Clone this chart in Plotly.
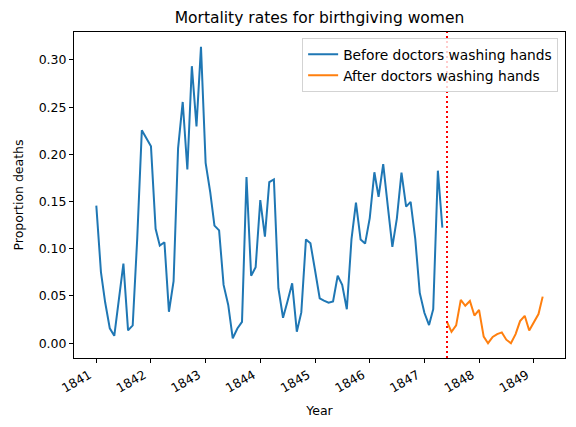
import plotly.graph_objects as go

# Before doctors washing hands (Dec 1841 missing in source data)
before_dates = (
    ["1841-%02d-01" % m for m in range(1, 12)]
    + ["1842-%02d-01" % m for m in range(1, 13)]
    + ["1843-%02d-01" % m for m in range(1, 13)]
    + ["1844-%02d-01" % m for m in range(1, 13)]
    + ["1845-%02d-01" % m for m in range(1, 13)]
    + ["1846-%02d-01" % m for m in range(1, 13)]
    + ["1847-%02d-01" % m for m in range(1, 6)]
)
before_values = [
    0.1457, 0.0753, 0.0433, 0.0157, 0.0078, 0.0500, 0.0842, 0.0135, 0.0188, 0.1102, 0.2255,
    0.2085, 0.1212, 0.1033, 0.1069, 0.0333, 0.0656, 0.2063, 0.2555, 0.1840, 0.2934, 0.2297, 0.3139,
    0.1910, 0.1597, 0.1245, 0.1195, 0.0617, 0.0405, 0.0052, 0.0155, 0.0226, 0.1760, 0.0714, 0.0805,
    0.1516, 0.1128, 0.1706, 0.1735, 0.0582, 0.0269, 0.0445, 0.0634, 0.0122, 0.0326, 0.1099, 0.1058,
    0.0770, 0.0475, 0.0450, 0.0428, 0.0441, 0.0714, 0.0617, 0.0360, 0.1099, 0.1488, 0.1098, 0.1055,
    0.1325, 0.1810, 0.1550, 0.1897, 0.1460, 0.1020, 0.1320, 0.1807, 0.1446, 0.1497, 0.1105, 0.0533,
    0.0322, 0.0192, 0.0360, 0.1827, 0.1224,
]

after_dates = (
    ["1847-%02d-01" % m for m in range(6, 13)]
    + ["1848-%02d-01" % m for m in range(1, 13)]
    + ["1849-%02d-01" % m for m in range(1, 4)]
)
after_values = [
    0.0224, 0.0120, 0.0189, 0.0458, 0.0396, 0.0447, 0.0293,
    0.0353, 0.0069, 0.0000, 0.0066, 0.0096, 0.0114, 0.0037, 0.0000, 0.0096, 0.0234, 0.0290, 0.0134,
    0.0223, 0.0308, 0.0493,
]

handwashing_start = "1847-06-01"
year_ticks = ["%d-01-01" % y for y in range(1841, 1850)]
year_labels = [str(y) for y in range(1841, 1850)]
y_ticks = [0.00, 0.05, 0.10, 0.15, 0.20, 0.25, 0.30]

FONT = "DejaVu Sans"

fig = go.Figure()
fig.add_trace(go.Scatter(x=before_dates, y=before_values, mode="lines",
                         name="Before doctors washing hands",
                         line=dict(color="#1f77b4", width=2)))
fig.add_trace(go.Scatter(x=after_dates, y=after_values, mode="lines",
                         name="After doctors washing hands",
                         line=dict(color="#ff7f0e", width=2)))

fig.add_shape(type="line", xref="x", yref="paper",
              x0=handwashing_start, x1=handwashing_start, y0=0, y1=1,
              line=dict(color="red", width=2, dash="2px,3px"), layer="above")

# page body has an 8px margin, so the figure is sized/placed accordingly
fig.update_layout(
    width=568, height=419,
    margin=dict(l=62, r=10, t=24, b=69),
    plot_bgcolor="white", paper_bgcolor="white",
    font=dict(family=FONT, size=12.5, color="black"),
    title=dict(text="Mortality rates for birthgiving women", x=0.5, xref="paper",
               xanchor="center", y=1 - 10 / 419, yanchor="middle", yref="container",
               font=dict(size=15.5, color="black", family=FONT)),
    showlegend=True,
    legend=dict(x=0.986, y=0.982, xanchor="right", yanchor="top",
                bgcolor="rgba(255,255,255,0.8)", bordercolor="#d3d3d3", borderwidth=1,
                font=dict(size=13.8, family=FONT), itemwidth=30,
                tracegroupgap=0),
    xaxis=dict(type="date", range=["1840-08-05", "1849-07-28"],
               tickmode="array", tickvals=year_ticks, ticktext=year_labels,
               tickangle=-30, ticks="outside", ticklen=4, tickwidth=1, tickcolor="black",
               ticklabelshift=-7,
               showline=True, linecolor="black", linewidth=1, mirror=True,
               showgrid=False, zeroline=False,
               title=dict(text="Year", font=dict(size=12.5), standoff=11)),
    yaxis=dict(range=[-0.0157, 0.3296], tickmode="array", tickvals=y_ticks,
               ticktext=["%.2f" % v for v in y_ticks],
               ticks="outside", ticklen=4, tickwidth=1, tickcolor="black",
               showline=True, linecolor="black", linewidth=1, mirror=True,
               showgrid=False, zeroline=False,
               title=dict(text="Proportion deaths", font=dict(size=12.5), standoff=12)),
)

fig.write_html("out.html")
